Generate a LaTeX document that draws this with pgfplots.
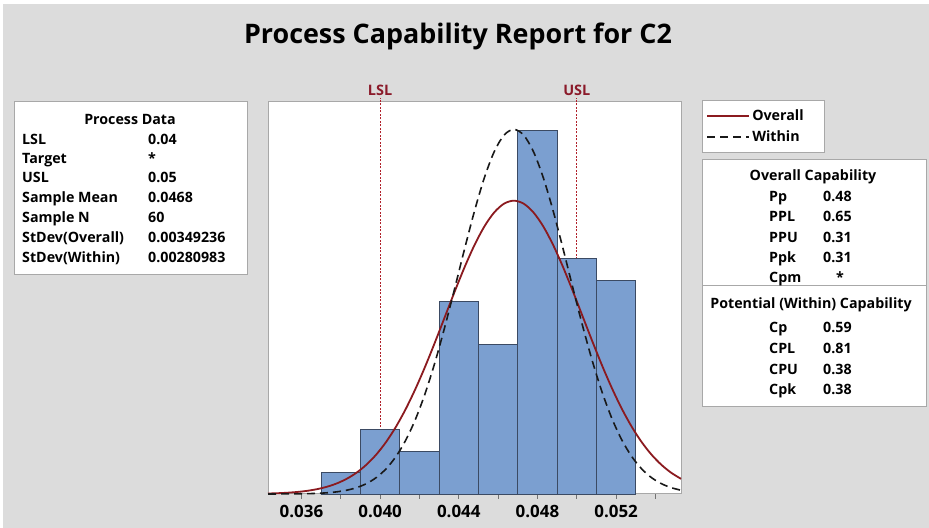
\documentclass[border=0pt]{standalone}
\usepackage{pgfplots}
\pgfplotsset{compat=1.18}
\usepackage{fontspec}
\setmainfont{Open Sans}
\definecolor{bg}{HTML}{DCDCDC}
\definecolor{barfill}{HTML}{7B9FD0}
\definecolor{baredge}{HTML}{3B4A63}
\definecolor{overall}{HTML}{8B1A1F}
\definecolor{spec}{HTML}{B0202A}
\definecolor{speclab}{HTML}{8B1A2A}
\definecolor{boxline}{HTML}{A8A8A8}
\newcommand\bx{\fontsize{14.3}{16}\selectfont\bfseries}
\begin{document}
\begin{tikzpicture}[x=1bp,y=1bp]
\fill[white] (0,0) rectangle (929,528);
\fill[bg] (3,0) rectangle (929,524);
% title
\node[font=\fontsize{27}{30}\selectfont\bfseries] at (458,492) {Process Capability Report for C2};
% Process data box
\draw[boxline, fill=white, line width=1bp] (14,253) rectangle (247,426);
\node[font=\bx] at (130,409) {Process Data};
\foreach \lab/\val/\yy in {LSL/0.04/388, Target/*/369, USL/0.05/350, Sample Mean/0.0468/330, Sample N/60/310, StDev(Overall)/0.00349236/290, StDev(Within)/0.00280983/270} {
  \node[font=\bx, anchor=base west, inner sep=0] at (22,\yy-5) {\lab};
  \node[font=\bx, anchor=base west, inner sep=0] at (148,\yy-5) {\val};
}
% capability box
\draw[boxline, fill=white, line width=1bp] (702,121) rectangle (926,368);
\draw[boxline, line width=1bp] (702,242) -- (926,242);
\node[font=\bx] at (813,351) {Overall Capability};
\node[font=\bx] at (811,223) {Potential (Within) Capability};
\foreach \lab/\val/\yy in {Pp/0.48/331, PPL/0.65/311, PPU/0.31/290, Ppk/0.31/270, Cp/0.59/200, CPL/0.81/179, CPU/0.38/158, Cpk/0.38/138} {
  \node[font=\bx, anchor=base west, inner sep=0] at (769,\yy-5) {\lab};
  \node[font=\bx, anchor=base west, inner sep=0] at (823,\yy-5) {\val};
}
\node[font=\bx, anchor=base west, inner sep=0] at (769,250-5) {Cpm};
\node[font=\bx, anchor=base, inner sep=0] at (840,250-5) {*};

\begin{axis}[
  at={(268bp,34bp)}, anchor=south west, scale only axis,
  width=413bp, height=392bp,
  xmin=0.0343, xmax=0.0553, ymin=0, ymax=18.32,
  axis background/.style={fill=white},
  axis line style={boxline, line width=1bp},
  ytick=\empty,
  xtick={0.036,0.040,0.044,0.048,0.052},
  xticklabels={0.036,0.040,0.044,0.048,0.052},
  minor xtick={0.038,0.042,0.046,0.050,0.054},
  scaled x ticks=false, xtick pos=bottom,
  tick align=outside, tick style={black!55, line width=0.8bp},
  major tick length=5bp, minor tick length=5bp,
  xticklabel style={font=\fontsize{17}{19}\selectfont\bfseries, yshift=-3bp},
  clip=false,
  legend style={at={(1.0508,1.005)}, anchor=north west, draw=boxline, fill=white,
    line width=1bp, font=\bx, inner xsep=4bp, inner ysep=7bp, row sep=5bp},
  legend cell align=left,
  legend image code/.code={\draw[#1] (0bp,0bp) -- (42bp,0bp);},
]
% spec limits
\addplot[spec, line width=1bp, dash pattern=on 2bp off 1.5bp, forget plot] coordinates {(0.040,0) (0.040,18.5)};
\addplot[spec, line width=1bp, dash pattern=on 2bp off 1.5bp, forget plot] coordinates {(0.050,0) (0.050,18.5)};
\node[font=\fontsize{14.5}{16}\selectfont\bfseries, text=speclab] at (axis cs:0.040,18.85) {LSL};
\node[font=\fontsize{14.5}{16}\selectfont\bfseries, text=speclab] at (axis cs:0.050,18.85) {USL};
% histogram
\addplot[ybar interval, fill=barfill, draw=baredge, line width=0.8bp, forget plot] coordinates {
(0.037,1) (0.039,3) (0.041,2) (0.043,9) (0.045,7) (0.047,17) (0.049,11) (0.051,10) (0.053,10)};
% overall normal fit
\addplot[overall, line width=1.8bp, smooth] coordinates {
(0.0343,0.0227) (0.0348,0.0374) (0.0353,0.0606) (0.0358,0.0961) (0.0363,0.149)
(0.0368,0.227) (0.0373,0.339) (0.0378,0.495) (0.0383,0.709) (0.0388,0.994)
(0.0393,1.366) (0.0398,1.839) (0.0403,2.425) (0.0408,3.133) (0.0413,3.966)
(0.0418,4.919) (0.0423,5.976) (0.0428,7.114) (0.0433,8.296) (0.0438,9.478)
(0.0443,10.610) (0.0448,11.635) (0.0453,12.500) (0.0458,13.157) (0.0463,13.568)
(0.0468,13.708) (0.0473,13.568) (0.0478,13.157) (0.0483,12.500) (0.0488,11.635)
(0.0493,10.610) (0.0498,9.478) (0.0503,8.296) (0.0508,7.114) (0.0513,5.976)
(0.0518,4.919) (0.0523,3.966) (0.0528,3.133) (0.0533,2.425) (0.0538,1.839)
(0.0543,1.366) (0.0548,0.994) (0.0553,0.709)};
\addlegendentry{\makebox[66bp][l]{Overall}}
% within normal fit
\addplot[black!90, line width=1.6bp, dash pattern=on 8bp off 5bp, smooth] coordinates {
(0.0343,0.0009) (0.0348,0.0019) (0.0353,0.0039) (0.0358,0.0080) (0.0363,0.0158)
(0.0368,0.0303) (0.0373,0.0562) (0.0378,0.101) (0.0383,0.176) (0.0388,0.296)
(0.0393,0.483) (0.0398,0.765) (0.0403,1.173) (0.0408,1.743) (0.0413,2.509)
(0.0418,3.498) (0.0423,4.726) (0.0428,6.186) (0.0433,7.844) (0.0438,9.636)
(0.0443,11.470) (0.0448,13.227) (0.0453,14.777) (0.0458,15.994) (0.0463,16.772)
(0.0468,17.04) (0.0473,16.772) (0.0478,15.994) (0.0483,14.777) (0.0488,13.227)
(0.0493,11.470) (0.0498,9.636) (0.0503,7.844) (0.0508,6.186) (0.0513,4.726)
(0.0518,3.498) (0.0523,2.509) (0.0528,1.743) (0.0533,1.173) (0.0538,0.765)
(0.0543,0.483) (0.0548,0.296) (0.0553,0.176)};
\addlegendentry{\makebox[66bp][l]{Within}}
\end{axis}
\end{tikzpicture}
\end{document}
